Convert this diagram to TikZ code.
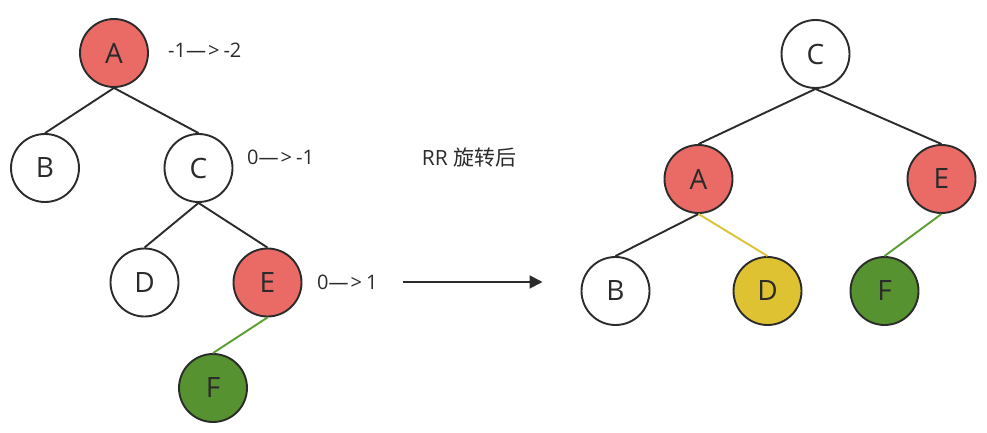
\documentclass[tikz,border=0pt]{standalone}
\usepackage{fontspec}
\setmainfont{Open Sans}
\newfontfamily\cjk{Noto Sans CJK SC}
\newcommand{\gt}{\kern2pt>\kern4pt}
\usetikzlibrary{arrows.meta}
\definecolor{ink}{HTML}{2B2B2B}
\definecolor{redfill}{HTML}{EA6B66}
\definecolor{yelfill}{HTML}{DFC232}
\definecolor{grnfill}{HTML}{56922F}
\definecolor{yeledge}{HTML}{DCC236}
\definecolor{grnedge}{HTML}{5A9E2F}
\tikzset{
  tnode/.style={circle, draw=ink, line width=1.9pt, minimum size=68pt, inner sep=0pt,
    font=\fontsize{28}{28}\selectfont, text=ink},
  wnode/.style={tnode, fill=white},
  rnode/.style={tnode, fill=redfill},
  ynode/.style={tnode, fill=yelfill},
  gnode/.style={tnode, fill=grnfill},
  lbl/.style={font=\fontsize{20}{20}\selectfont, text=ink, inner sep=0pt},
  edge/.style={draw=ink, line width=1.9pt},
}
\begin{document}
\begin{tikzpicture}[x=1pt, y=-1pt]
\useasboundingbox (0,0) rectangle (987,433);
% left tree
\node[rnode] (lA) at (114,53) {A};
\node[wnode] (lB) at (45,168) {B};
\node[wnode] (lC) at (198.5,168) {C};
\node[wnode] (lD) at (144.5,282.5) {D};
\node[rnode] (lE) at (267.5,282.5) {E};
\node[gnode] (lF) at (213,388) {F};
\draw[edge] (lA.south) -- (lB.north);
\draw[edge] (lA.south) -- (lC.north);
\draw[edge] (lC.south) -- (lD.north);
\draw[edge] (lC.south) -- (lE.north);
\draw[edge, draw=grnedge] (lE.south) -- (lF.north);
\node[lbl, anchor=west] (t1) at (168,50) {-1—\gt-2};
\node[lbl, anchor=west] (t2) at (247,157) {0—\gt-1};
\node[lbl, anchor=west] (t3) at (317,282) {0—\gt1};
% arrow
\node[lbl, font=\fontsize{21}{21}\selectfont] (rr) at (469,158) {RR {\cjk 旋转后}};
\coordinate (a1) at (402.5,282);
\coordinate (a2) at (542.5,282);
\draw[edge, -{Triangle[length=13pt, width=13pt]}] (a1) -- (a2);
% right tree
\node[wnode] (rC) at (815.5,54) {C};
\node[rnode] (rA) at (698.5,179) {A};
\node[rnode] (rE) at (941.5,179) {E};
\node[wnode] (rB) at (615.5,291) {B};
\node[ynode] (rD) at (767.5,291) {D};
\node[gnode] (rF) at (884.5,291) {F};
\draw[edge] (rC.south) -- (rA.north);
\draw[edge] (rC.south) -- (rE.north);
\draw[edge] (rA.south) -- (rB.north);
\draw[edge, draw=yeledge] (rA.south) -- (rD.north);
\draw[edge, draw=grnedge] (rE.south) -- (rF.north);
\end{tikzpicture}
\end{document}
